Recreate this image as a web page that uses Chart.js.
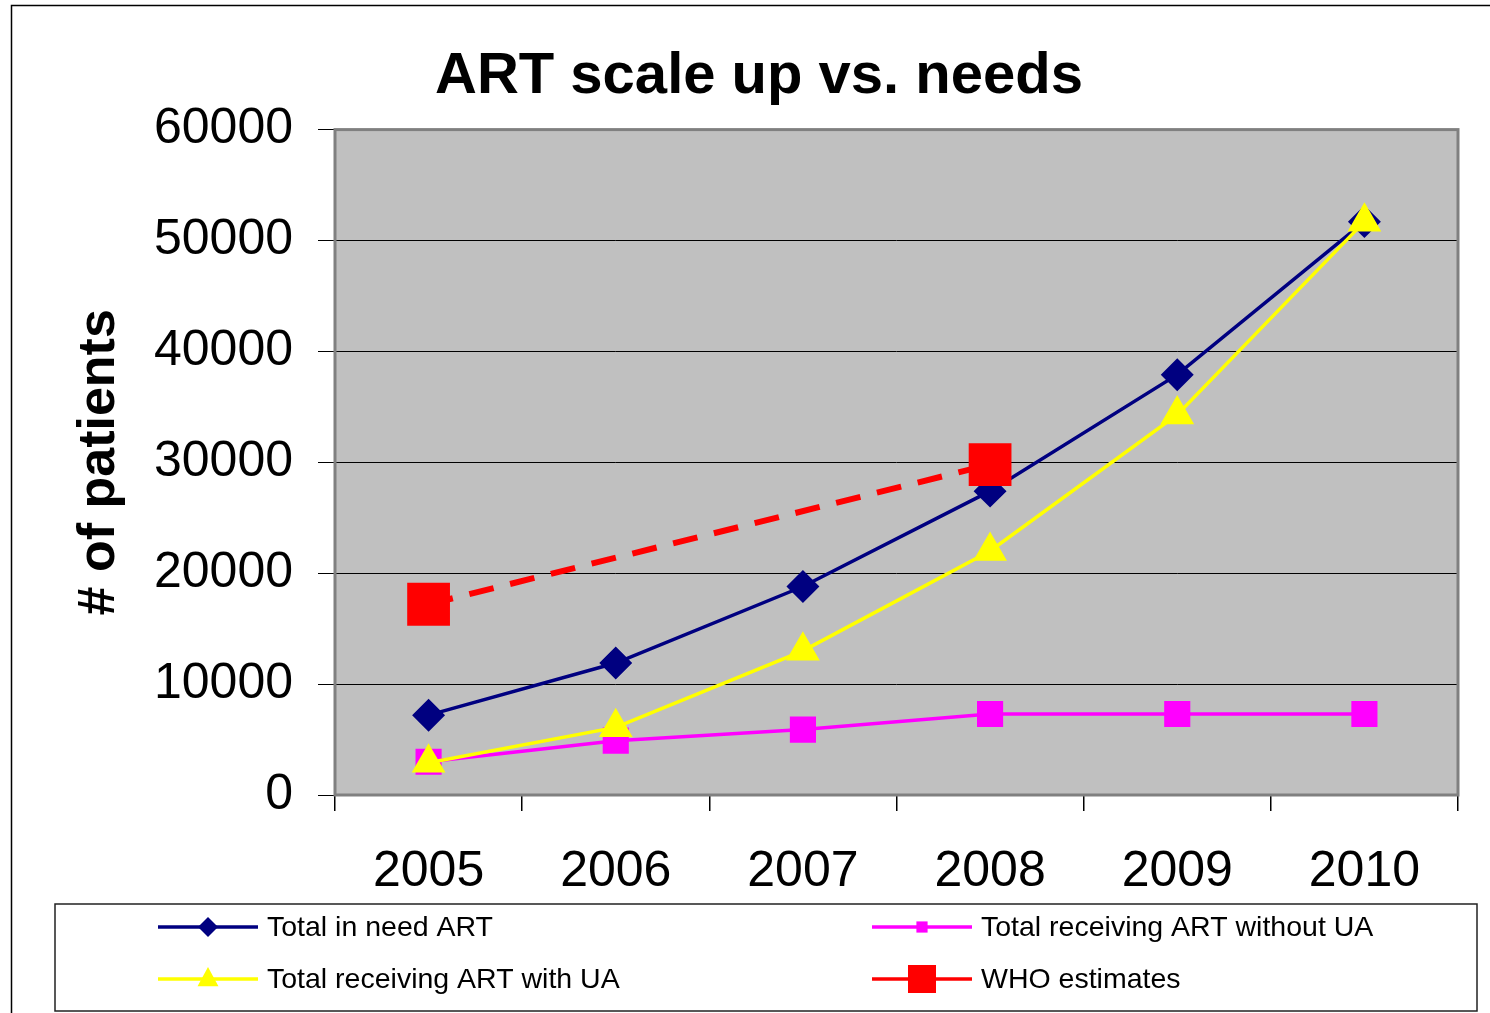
<!DOCTYPE html>
<html>
<head>
<meta charset="utf-8">
<title>ART scale up vs. needs</title>
<script src="https://cdn.jsdelivr.net/npm/chart.js@4.4.1/dist/chart.umd.min.js"></script>
<style>
  html, body { margin: 0; padding: 0; background: #fff; }
  canvas { display: block; }
</style>
</head>
<body>
<canvas id="artChart" width="1490" height="1013"></canvas>
<script>
// Chart data
const years = ['2005', '2006', '2007', '2008', '2009', '2010'];
const totalInNeed = [7200, 11900, 18800, 27400, 37900, 51700];
const withoutUA = [3000, 4900, 5900, 7300, 7300, 7300];
const withUA = [2900, 6100, 13000, 22000, 34300, 51700];
const whoEstimates = [17200, null, null, 29800, null, null];
const yTicks = [0, 10000, 20000, 30000, 40000, 50000, 60000];

const FONT = 'Arial, "Liberation Sans", sans-serif';

// Legend: two columns, two rows, boxed
const legendBox = { left: 55, top: 904, right: 1477, bottom: 1011 };
const legendSlots = [
    { x: 158, y: 927 }, { x: 872, y: 927 },
    { x: 158, y: 979 }, { x: 872, y: 979 }
];

function marker(ctx, style, r, x, y) {
    ctx.beginPath();
    if (style === 'rectRot') {
        ctx.moveTo(x, y - r); ctx.lineTo(x + r, y); ctx.lineTo(x, y + r); ctx.lineTo(x - r, y);
    } else if (style === 'triangle') {
        ctx.moveTo(x, y - r); ctx.lineTo(x + r * 0.87, y + r * 0.6); ctx.lineTo(x - r * 0.87, y + r * 0.6);
    } else {
        ctx.rect(x - r * 0.7, y - r * 0.7, r * 1.4, r * 1.4);
    }
    ctx.closePath();
    ctx.fill();
}

const framePlugin = {
    id: 'frame',
    beforeDraw(chart) {
        const { ctx, chartArea: a } = chart;
        ctx.save();
        ctx.fillStyle = '#fff';
        ctx.fillRect(0, 0, chart.width, chart.height);
        ctx.fillStyle = '#c0c0c0';
        ctx.fillRect(a.left, a.top, a.right - a.left, a.bottom - a.top);
        ctx.strokeStyle = '#000';
        ctx.lineWidth = 1.5;
        ctx.strokeRect(11.5, 5.5, chart.width + 10, chart.height + 10);
        ctx.restore();
    },
    beforeDatasetsDraw(chart) {
        const { ctx, chartArea: a } = chart;
        ctx.save();
        ctx.strokeStyle = '#808080';
        ctx.lineWidth = 3;
        ctx.strokeRect(a.left, a.top, a.right - a.left, a.bottom - a.top);
        ctx.restore();
    },
    afterDraw(chart) {
        const ctx = chart.ctx;
        ctx.save();
        ctx.strokeStyle = '#222';
        ctx.lineWidth = 1.5;
        ctx.strokeRect(legendBox.left, legendBox.top,
            legendBox.right - legendBox.left, legendBox.bottom - legendBox.top);
        chart.data.datasets.forEach((ds, i) => {
            const s = legendSlots[i];
            ctx.strokeStyle = ds.borderColor;
            ctx.lineWidth = 3.5;
            ctx.setLineDash([]);
            ctx.beginPath();
            ctx.moveTo(s.x, s.y);
            ctx.lineTo(s.x + 100, s.y);
            ctx.stroke();
            ctx.fillStyle = ds.pointBackgroundColor;
            marker(ctx, ds.pointStyle, ds.legendRadius, s.x + 50, s.y);
            ctx.fillStyle = '#000';
            ctx.font = '28.5px ' + FONT;
            ctx.textBaseline = 'middle';
            ctx.textAlign = 'left';
            ctx.fillText(ds.label, s.x + 109, s.y + 1);
        });
        ctx.restore();
    }
};

const ctx = document.getElementById('artChart').getContext('2d');
new Chart(ctx, {
    type: 'line',
    data: {
        labels: years,
        datasets: [{
            label: 'Total in need ART',
            data: totalInNeed,
            borderColor: '#000080',
            pointBackgroundColor: '#000080',
            pointBorderColor: '#000080',
            borderWidth: 3.5,
            pointStyle: 'rectRot',
            pointRadius: 14,
            legendRadius: 10,
            order: 4
        }, {
            label: 'Total receiving ART without UA',
            data: withoutUA,
            borderColor: '#ff00ff',
            pointBackgroundColor: '#ff00ff',
            pointBorderColor: '#ff00ff',
            borderWidth: 3.5,
            pointStyle: 'rect',
            pointRadius: 16,
            legendRadius: 8,
            order: 3
        }, {
            label: 'Total receiving ART with UA',
            data: withUA,
            borderColor: '#ffff00',
            pointBackgroundColor: '#ffff00',
            pointBorderColor: '#ffff00',
            borderWidth: 3.5,
            pointStyle: 'triangle',
            pointRadius: 16,
            legendRadius: 12,
            order: 2
        }, {
            label: 'WHO estimates',
            data: whoEstimates,
            borderColor: '#ff0000',
            pointBackgroundColor: '#ff0000',
            pointBorderColor: '#ff0000',
            borderWidth: 6,
            borderDash: [25, 17],
            pointStyle: 'rect',
            pointRadius: 26,
            legendRadius: 20,
            spanGaps: true,
            order: 1
        }]
    },
    options: {
        responsive: false,
        animation: false,
        events: [],
        layout: { padding: { left: 60, right: 32, top: 0, bottom: 118 } },
        elements: { line: { tension: 0 }, point: { borderWidth: 1 } },
        plugins: {
            legend: { display: false },
            tooltip: { enabled: false },
            title: {
                display: true,
                text: 'ART scale up vs. needs',
                color: '#000',
                font: { family: FONT, size: 58, weight: 'bold' },
                padding: { top: 42, bottom: 18 }
            }
        },
        scales: {
            x: {
                offset: true,
                grid: { offset: true, drawOnChartArea: false, drawTicks: true, tickLength: 16, color: '#000', lineWidth: 1.5 },
                border: { display: false },
                ticks: { color: '#000', font: { family: FONT, size: 50 }, padding: 31, maxRotation: 0 },
                afterFit(scale) { scale.height = 100; }
            },
            y: {
                min: 0,
                max: 60000,
                afterBuildTicks(scale) { scale.ticks = yTicks.map(v => ({ value: v })); },
                grid: { color: '#000', lineWidth: 1, tickLength: 17 },
                border: { display: false },
                ticks: {
                    color: '#000',
                    font: { family: FONT, size: 50 },
                    padding: 25,
                    callback: v => String(v)
                },
                title: {
                    display: true,
                    text: '# of patients',
                    color: '#000',
                    font: { family: FONT, size: 52, weight: 'bold' },
                    padding: { top: 8, bottom: 0 }
                },
                afterFit(scale) { scale.width = 275; }
            }
        }
    },
    plugins: [framePlugin]
});
</script>
</body>
</html>
